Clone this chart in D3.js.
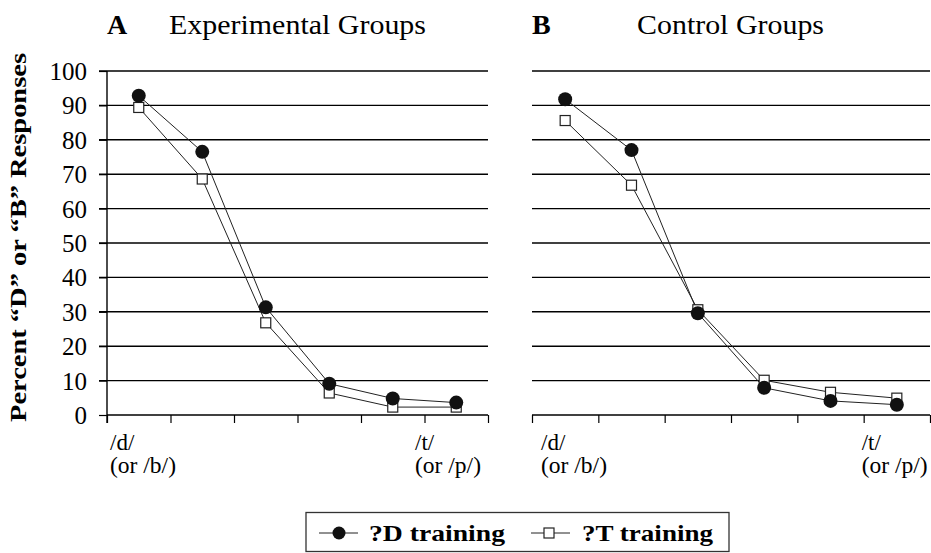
<!DOCTYPE html>
<html>
<head>
<meta charset="utf-8">
<script src="https://cdn.jsdelivr.net/npm/d3@7"></script>
<style>
  body { margin: 0; background: #fff; }
  svg text { font-family: "Liberation Serif", "Times New Roman", Times, serif !important; fill: #000; }
</style>
</head>
<body>
<svg width="931" height="553"></svg>
<script>
// data
var steps = [1, 2, 3, 4, 5, 6];
var yTicks = [0, 10, 20, 30, 40, 50, 60, 70, 80, 90, 100];
var expD = [92.8, 76.5, 31.3, 9.1, 4.8, 3.6];
var expT = [89.4, 68.6, 26.8, 6.4, 2.3, 2.3];
var ctlD = [91.8, 77.0, 29.6, 7.9, 4.1, 3.0];
var ctlT = [85.6, 66.8, 30.6, 10.1, 6.6, 4.9];
var seriesNames = ["?D training", "?T training"];

var svg = d3.select('svg');

var y = d3.scaleLinear()
    .domain([0, 100])
    .range([415, 71]);

function drawPanel(x0, x1, letter, title, titleX, titleW, dData, tData, showY, labOff) {
    var x = d3.scaleLinear()
        .domain([0, 6])
        .range([x0, x1]);

    var g = svg.append('g');

    // grid lines
    g.selectAll('line.grid')
        .data(yTicks.slice(1))
        .enter()
        .append('line')
        .attr('x1', showY ? x0 - 8 : x0)
        .attr('x2', x1)
        .attr('y1', function(d) { return y(d); })
        .attr('y2', function(d) { return y(d); })
        .attr('stroke', '#000')
        .attr('stroke-width', 1.4);

    // x axis
    var xAxis = d3.axisBottom(x)
        .tickValues(d3.range(0, 7))
        .tickSize(8)
        .tickFormat('');
    var ax = g.append('g')
        .attr('transform', 'translate(0,' + y(0) + ')')
        .call(xAxis);
    ax.select('.domain').attr('stroke-width', 1.4).attr('d', 'M' + x0 + ',0H' + x1);
    ax.selectAll('.tick line').attr('stroke-width', 1.2);

    if (showY) {
        var yAxis = d3.axisLeft(y)
            .tickValues(yTicks)
            .tickSize(8)
            .tickPadding(12);
        var ay = g.append('g')
            .attr('transform', 'translate(' + x0 + ',0)')
            .call(yAxis);
        ay.select('.domain').attr('stroke-width', 1.4).attr('d', 'M0,' + y(100) + 'V' + (y(0) + 8));
        ay.selectAll('.tick line').attr('stroke-width', 1.2);
        ay.selectAll('text')
            .attr('font-size', 25)
            .attr('dy', '0.34em');
    }

    var line = d3.line()
        .x(function(d, i) { return x(steps[i] - 0.5); })
        .y(function(d) { return y(d); });

    [tData, dData].forEach(function(s) {
        g.append('path')
            .datum(s)
            .attr('d', line)
            .attr('fill', 'none')
            .attr('stroke', '#222')
            .attr('stroke-width', 1);
    });

    g.selectAll('rect.pt')
        .data(tData)
        .enter()
        .append('rect')
        .attr('x', function(d, i) { return x(steps[i] - 0.5) - 5; })
        .attr('y', function(d) { return y(d) - 5; })
        .attr('width', 10)
        .attr('height', 10)
        .attr('fill', '#fff')
        .attr('stroke', '#222')
        .attr('stroke-width', 1.2);

    g.selectAll('circle.pt')
        .data(dData)
        .enter()
        .append('circle')
        .attr('cx', function(d, i) { return x(steps[i] - 0.5); })
        .attr('cy', function(d) { return y(d); })
        .attr('r', 7)
        .attr('fill', '#111');

    // x labels
    var lx = [x(0) + labOff[0], x(5) + labOff[1]];
    var l1 = ['/d/', '/t/'];
    var l2 = ['(or /b/)', '(or /p/)'];
    lx.forEach(function(px, i) {
        g.append('text').attr('x', px).attr('y', 450)
            .attr('font-size', 23).text(l1[i]);
        g.append('text').attr('x', px).attr('y', 473)
            .attr('font-size', 23).attr('textLength', 66)
            .attr('lengthAdjust', 'spacingAndGlyphs').text(l2[i]);
    });

    // title
    svg.append('text')
        .attr('x', x0)
        .attr('y', 34)
        .attr('font-size', 28)
        .attr('font-weight', 'bold')
        .text(letter);
    svg.append('text')
        .attr('x', titleX)
        .attr('y', 34)
        .attr('font-size', 28)
        .attr('textLength', titleW)
        .attr('lengthAdjust', 'spacingAndGlyphs')
        .text(title);
}

drawPanel(107, 488, 'A', 'Experimental Groups', 169, 257, expD, expT, true, [3, -9.5]);
drawPanel(532, 930, 'B', 'Control Groups', 637, 187, ctlD, ctlT, false, [9, -2]);

// y label
svg.append('text')
    .attr('transform', 'translate(26,237.5) rotate(-90)')
    .attr('text-anchor', 'middle')
    .attr('font-size', 23)
    .attr('font-weight', 'bold')
    .attr('textLength', 369)
    .attr('lengthAdjust', 'spacingAndGlyphs')
    .text('Percent \u201CD\u201D or \u201CB\u201D Responses');

// legend
var leg = svg.append('g');
leg.append('rect')
    .attr('x', 306).attr('y', 512.5)
    .attr('width', 423).attr('height', 39)
    .attr('fill', '#fff')
    .attr('stroke', '#333')
    .attr('stroke-width', 1.3);

var legX = [319, 531];
var textX = [369, 582];
var textW = [136, 131];
seriesNames.forEach(function(name, i) {
    leg.append('line')
        .attr('x1', legX[i]).attr('x2', legX[i] + 39)
        .attr('y1', 533).attr('y2', 533)
        .attr('stroke', '#222').attr('stroke-width', 1);
    if (i === 0) {
        leg.append('circle').attr('cx', legX[i] + 20).attr('cy', 533)
            .attr('r', 6.5).attr('fill', '#111');
    } else {
        leg.append('rect').attr('x', legX[i] + 13).attr('y', 528)
            .attr('width', 10).attr('height', 10)
            .attr('fill', '#fff').attr('stroke', '#222').attr('stroke-width', 1.2);
    }
    leg.append('text')
        .attr('x', textX[i]).attr('y', 541)
        .attr('font-size', 24)
        .attr('font-weight', 'bold')
        .attr('textLength', textW[i])
        .attr('lengthAdjust', 'spacingAndGlyphs')
        .text(name);
});
</script>
</body>
</html>
